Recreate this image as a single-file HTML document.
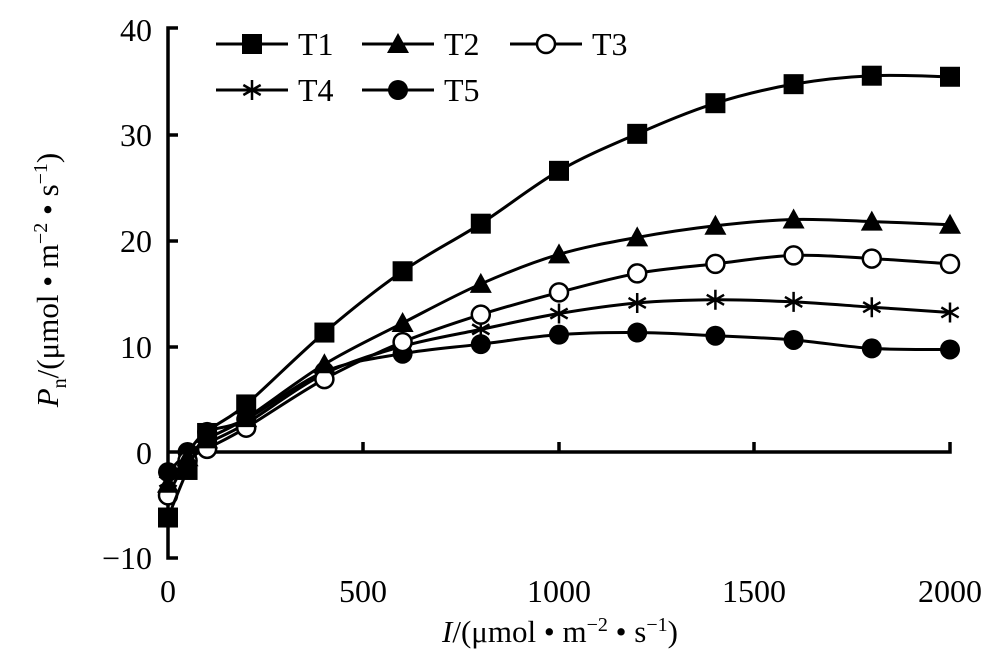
<!DOCTYPE html>
<html><head><meta charset="utf-8"><style>
body{margin:0;background:#fff}
svg text{font-family:"Liberation Serif",serif;fill:#000}
</style></head><body>
<svg id="s" width="1000" height="666" xmlns="http://www.w3.org/2000/svg">
<g stroke="#000" stroke-width="3.5" fill="none">
<path d="M178,28 H168 V558 H178"/>
<path d="M168,452 H950 V442 M363,452 V442 M559,452 V442 M754,452 V442"/>
<path d="M168,135 H178 M168,241 H178 M168,347 H178"/>
</g>
<g font-size="32" text-anchor="end">
<text x="152" y="41">40</text><text x="152" y="146">30</text><text x="152" y="252">20</text>
<text x="152" y="358">10</text><text x="152" y="464">0</text><text x="152" y="569">−10</text>
</g>
<g font-size="32" text-anchor="middle">
<text x="168" y="602">0</text><text x="363" y="602">500</text><text x="559" y="602">1000</text>
<text x="754" y="602">1500</text><text x="950" y="602">2000</text>
</g>
<text x="560" y="642" font-size="31" text-anchor="middle"><tspan font-style="italic">I</tspan>/(μmol • m<tspan dy="-11" font-size="20">−2</tspan><tspan dy="11"> • s</tspan><tspan dy="-11" font-size="20">−1</tspan><tspan dy="11">)</tspan></text>
<text transform="translate(58,280) rotate(-90)" font-size="31" text-anchor="middle"><tspan font-style="italic">P</tspan><tspan dy="8" font-size="20">n</tspan><tspan dy="-8">/(μmol • m</tspan><tspan dy="-11" font-size="20">−2</tspan><tspan dy="11"> • s</tspan><tspan dy="-11" font-size="20">−1</tspan><tspan dy="11">)</tspan></text>
<g id="plot"></g>
<g id="leg" font-size="32"></g>
</svg>
<script>
var X=[0,50,100,200,400,600,800,1000,1200,1400,1600,1800,2000];
var D=[
[-6.2,-1.7,1.8,4.5,11.3,17.1,21.6,26.6,30.1,33,34.8,35.6,35.5],
[-3,-0.5,1.2,3.2,8.3,12.2,15.9,18.7,20.3,21.4,22,21.8,21.5],
[-4.1,-0.8,0.3,2.3,6.9,10.4,13,15.1,16.9,17.8,18.6,18.3,17.8],
[-2.8,-0.6,0.8,2.7,7.4,10,11.6,13.1,14.1,14.4,14.2,13.7,13.2],
[-1.9,0,1.9,3.1,7.6,9.3,10.2,11.1,11.3,11,10.6,9.8,9.7]];
function px(x){return 168+x*0.391}
function py(y){return 452-y*10.57}
var NS="http://www.w3.org/2000/svg",g=document.getElementById('plot');
function el(t,a,p){var e=document.createElementNS(NS,t);for(var k in a)e.setAttribute(k,a[k]);(p||g).appendChild(e);return e}
function marker(k,x,y,p){
 if(k==0)el('rect',{x:x-10,y:y-10,width:20,height:20,fill:'#000'},p);
 else if(k==1)el('path',{d:'M'+x+','+(y-11)+' L'+(x+11)+','+(y+9)+' L'+(x-11)+','+(y+9)+'Z',fill:'#000'},p);
 else if(k==2)el('circle',{cx:x,cy:y,r:9,fill:'#fff',stroke:'#000','stroke-width':2.5},p);
 else if(k==3){var d='';for(var i=0;i<3;i++){var a=Math.PI/2+i*Math.PI/3,c=10*Math.cos(a),s=10*Math.sin(a);d+='M'+(x-c)+','+(y-s)+'L'+(x+c)+','+(y+s)}el('path',{d:d,stroke:'#000','stroke-width':2.5,fill:'none'},p)}
 else el('circle',{cx:x,cy:y,r:10,fill:'#000'},p);
}
for(var k=4;k>=0;k--){
 var P=X.map(function(x,i){return [px(x),py(D[k][i])]});
 var d='M'+P[0];
 for(var i=0;i<P.length-1;i++){
  var p0=P[i>0?i-1:i],p1=P[i],p2=P[i+1],p3=P[i+2<P.length?i+2:i+1];
  var c1=[p1[0]+(p2[0]-p0[0])/6,p1[1]+(p2[1]-p0[1])/6],c2=[p2[0]-(p3[0]-p1[0])/6,p2[1]-(p3[1]-p1[1])/6];
  d+='C'+c1+' '+c2+' '+p2;
 }
 el('path',{d:d,fill:'none',stroke:'#000','stroke-width':3});
 P.forEach(function(p){marker(k,p[0],p[1])});
}
var L=document.getElementById('leg');
var pos=[[216,44,'T1'],[362,44,'T2'],[510,44,'T3'],[216,90,'T4'],[362,90,'T5']];
pos.forEach(function(q,k){
 el('line',{x1:q[0],y1:q[1],x2:q[0]+72,y2:q[1],stroke:'#000','stroke-width':3},L);
 marker(k,q[0]+36,q[1],L);
 var t=el('text',{x:q[0]+82,y:q[1]+11},L);t.textContent=q[2];
});
</script>
</body></html>
